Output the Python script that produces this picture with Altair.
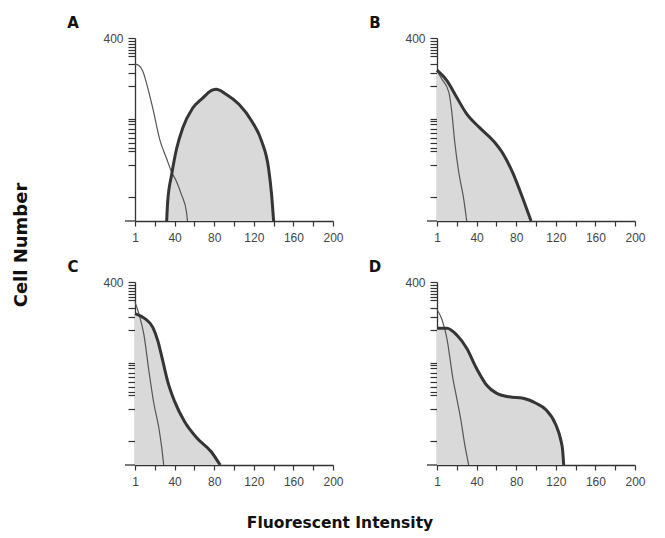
import altair as alt
import pandas as pd

# ---------------- data ----------------
X_TICKS = [0, 20, 40, 60, 80, 100, 120, 140, 160, 180, 200]
Y_TICKS = [400, 393, 387, 380, 374, 367, 360, 343, 323, 295,
           224, 218, 211, 202, 193, 182, 171, 160, 152, 123, 53]

A_THIN_X = [0, 4, 8, 13, 18, 25, 32, 37, 42, 47, 52, 53]
A_THIN_Y = [343, 340, 327, 290, 246, 178, 136, 107, 86, 57, 20, 0]
A_THICK_X = [32, 33, 37, 42, 48, 58, 68, 78, 82, 92, 105, 118, 128, 135, 138, 140]
A_THICK_Y = [0, 42, 101, 158, 202, 246, 268, 286, 288, 277, 255, 218, 174, 114, 57, 0]

B_THIN_X = [0, 5, 12, 15, 18, 22, 27, 30]
B_THIN_Y = [328, 310, 281, 237, 171, 106, 48, 0]
B_THICK_X = [0, 10, 20, 30, 43, 57, 67, 77, 85, 95]
B_THICK_Y = [330, 307, 270, 234, 204, 175, 146, 103, 59, 0]

C_THIN_X = [0, 4, 9, 14, 19, 24, 27, 29]
C_THIN_Y = [356, 330, 285, 206, 135, 82, 38, 0]
C_THICK_X = [0, 10, 18, 23, 28, 33, 40, 50, 63, 77, 86]
C_THICK_Y = [331, 320, 301, 272, 228, 183, 139, 95, 58, 29, 0]

D_THIN_X = [0, 5, 10, 16, 20, 24, 28, 32]
D_THIN_Y = [340, 318, 277, 190, 145, 100, 45, 0]
D_THICK_X = [0, 10, 20, 30, 40, 50, 60, 73, 87, 100, 110, 120, 125, 127, 128]
D_THICK_Y = [299, 299, 284, 255, 211, 175, 157, 149, 146, 135, 121, 88, 55, 30, 0]

LETTERS = ["A", "B", "C", "D"]
Y_TITLE = "Cell Number"
X_TITLE = "Fluorescent Intensity"

# ---------------- styling ----------------
W, H = 198, 183
AX = "#333333"
FILL = "#d9d9d9"
THICK = "#353535"
THIN = "#555555"
HEAVY_FONT = "DejaVu Sans"
LABEL_FONT = "Liberation Sans"


def panel(letter, thin_x, thin_y, thick_x, thick_y, extras=()):
    thin = pd.DataFrame({"x": thin_x, "y": thin_y})
    thick = pd.DataFrame({"x": thick_x, "y": thick_y})
    xs = alt.Scale(domain=[0, 200], nice=False)
    ys = alt.Scale(domain=[0, 400], nice=False)
    xax = alt.Axis(values=X_TICKS, title=None, grid=False, tickSize=5,
                   labelExpr="datum.value == 0 ? '1' : (datum.value % 40 == 0 ? datum.label : '')",
                   labelFlush=False, labelOverlap=False, labelPadding=6)
    yax = alt.Axis(values=Y_TICKS, title=None, grid=False, tickSize=7,
                   labelExpr="datum.value == 400 ? '400' : ''",
                   labelFlush=False, labelOverlap=False, labelPadding=5)
    X = alt.X("x:Q", scale=xs, axis=xax)
    Y = alt.Y("y:Q", scale=ys, axis=yax)

    area = alt.Chart(thick).mark_area(color=FILL, interpolate="monotone").encode(x=X, y=Y)
    thin_l = alt.Chart(thin).mark_line(color=THIN, strokeWidth=1.2,
                                       interpolate="monotone").encode(x=X, y=Y)
    thick_l = alt.Chart(thick).mark_line(color=THICK, strokeWidth=3,
                                         interpolate="monotone").encode(x=X, y=Y)
    one = pd.DataFrame({"t": [letter]})
    ext = alt.Chart(one).mark_rule(color=AX, strokeWidth=1.3).encode(
        x=alt.value(-10), x2=alt.value(0), y=alt.value(H))
    lab = alt.Chart(one).mark_text(font=HEAVY_FONT, fontWeight="bold", fontSize=15,
                                   color="#111111", align="center", baseline="middle").encode(
        text="t:N", x=alt.value(-62), y=alt.value(-15))
    layers = [area, thin_l, thick_l, ext, lab] + list(extras)
    return alt.layer(*layers).properties(width=W, height=H)


ytitle = alt.Chart(pd.DataFrame({"t": [Y_TITLE]})).mark_text(
    font=HEAVY_FONT, fontWeight="bold", fontSize=18, color="#111111",
    angle=270, align="center", baseline="middle").encode(
    text="t:N", x=alt.value(-113), y=alt.value(207))
xtitle = alt.Chart(pd.DataFrame({"t": [X_TITLE]})).mark_text(
    font=HEAVY_FONT, fontWeight="bold", fontSize=15.5, color="#111111",
    align="center", baseline="middle").encode(
    text="t:N", x=alt.value(205), y=alt.value(241))

pA = panel(LETTERS[0], A_THIN_X, A_THIN_Y, A_THICK_X, A_THICK_Y, [ytitle])
pB = panel(LETTERS[1], B_THIN_X, B_THIN_Y, B_THICK_X, B_THICK_Y)
pC = panel(LETTERS[2], C_THIN_X, C_THIN_Y, C_THICK_X, C_THICK_Y, [xtitle])
pD = panel(LETTERS[3], D_THIN_X, D_THIN_Y, D_THICK_X, D_THICK_Y)

chart = alt.concat(pA, pB, pC, pD, columns=2,
                   spacing={"row": 61, "column": 104}, bounds="flush").properties(
    padding={"left": 5, "top": 8, "right": 5, "bottom": 0}
).configure_view(stroke=None).configure_axis(
    domainColor=AX, domainWidth=1.3, tickColor=AX, tickWidth=1.2,
    labelColor="#444444", labelFont=LABEL_FONT, labelFontSize=12
)

chart.save("out.html", embed_options={"renderer": "svg", "actions": False})
